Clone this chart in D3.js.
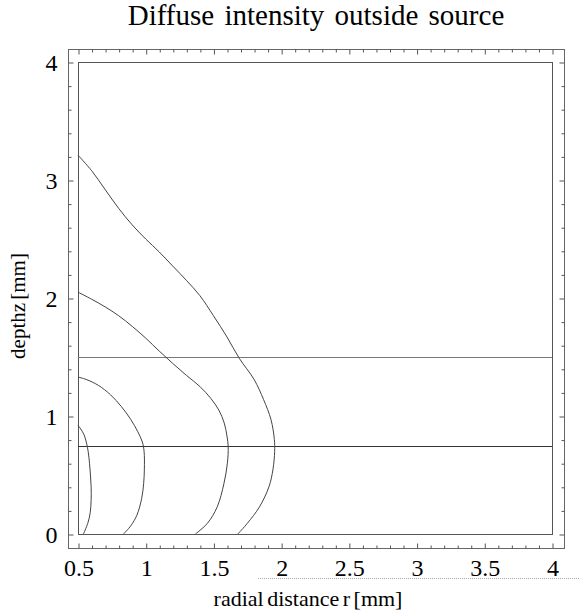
<!DOCTYPE html>
<html>
<head>
<meta charset="utf-8">
<script src="https://cdn.jsdelivr.net/npm/d3@7"></script>
<style>
  html, body { margin: 0; padding: 0; background: #fff; }
  svg { display: block; }
  text { font-family: "Liberation Serif", "DejaVu Serif", serif; fill: #000; }
</style>
</head>
<body>
<svg id="chart" width="580" height="613"></svg>
<script>
// ---- data ----
const titleText = "Diffuse intensity outside source";
const xLabel = "radial distance r [mm]";
const yLabel = "depthz [mm]";
const xMajorTicks = [0.5, 1, 1.5, 2, 2.5, 3, 3.5, 4];
const xTickLabels = ["0.5", "1", "1.5", "2", "2.5", "3", "3.5", "4"];
const yMajorTicks = [0, 1, 2, 3, 4];
const yTickLabels = ["0", "1", "2", "3", "4"];
const xMinorTicks = [0.6,0.7,0.8,0.9,1.1,1.2,1.3,1.4,1.6,1.7,1.8,1.9,2.1,2.2,2.3,2.4,2.6,2.7,2.8,2.9,3.1,3.2,3.3,3.4,3.6,3.7,3.8,3.9];
const yMinorTicks = [0.2,0.4,0.6,0.8,1.2,1.4,1.6,1.8,2.2,2.4,2.6,2.8,3.2,3.4,3.6,3.8];
const horizontalLevels = [1.5, 0.75];

// contour curves: [r, z]
const contour1 = [[0.5,0.92],[0.52,0.89],[0.545,0.84],[0.563,0.77],[0.575,0.70],[0.585,0.60],[0.592,0.50],[0.597,0.40],[0.597,0.29],[0.59,0.18],[0.572,0.09],[0.54,0]];
const contour2 = [[0.5,1.33],[0.56,1.31],[0.65,1.26],[0.74,1.18],[0.82,1.08],[0.89,0.97],[0.94,0.87],[0.975,0.78],[0.988,0.70],[0.99,0.55],[0.985,0.43],[0.97,0.30],[0.935,0.16],[0.89,0.07],[0.836,0]];
const contour3 = [[0.5,2.05],[0.6,1.99],[0.7,1.925],[0.8,1.85],[0.9,1.76],[1.0,1.66],[1.1,1.55],[1.2,1.445],[1.3,1.345],[1.4,1.25],[1.48,1.15],[1.54,1.05],[1.58,0.94],[1.60,0.83],[1.609,0.74],[1.603,0.60],[1.578,0.43],[1.528,0.23],[1.455,0.09],[1.367,0]];
const contour4 = [[0.5,3.21],[0.6,3.08],[0.7,2.92],[0.8,2.76],[0.9,2.62],[1.0,2.50],[1.1,2.39],[1.2,2.27],[1.3,2.15],[1.4,2.02],[1.5,1.85],[1.6,1.67],[1.69,1.49],[1.8,1.31],[1.87,1.14],[1.925,0.97],[1.95,0.80],[1.952,0.70],[1.94,0.55],[1.91,0.40],[1.84,0.23],[1.75,0.09],[1.68,0]];
const contours = [contour1, contour2, contour3, contour4];

// ---- layout ----
const svg = d3.select("#chart");
const inner = {left: 78, right: 552, top: 62, bottom: 534};
const outer = {left: 68, right: 564, top: 49, bottom: 548};

const x = d3.scaleLinear().domain([0.5, 4]).range([inner.left, inner.right]);
const y = d3.scaleLinear().domain([0, 4]).range([inner.bottom, inner.top]);

// title
svg.append("text").attr("x", 316).attr("y", 25).attr("text-anchor", "middle")
  .attr("font-size", 29).attr("word-spacing", 3).text(titleText);

// outer frame
svg.append("rect").attr("x", outer.left + 0.5).attr("y", outer.top + 0.5)
  .attr("width", outer.right - outer.left).attr("height", outer.bottom - outer.top)
  .attr("fill", "none").attr("stroke", "#666").attr("stroke-width", 1);

// inner box
svg.append("rect").attr("x", inner.left + 0.5).attr("y", inner.top + 0.5)
  .attr("width", inner.right - inner.left).attr("height", inner.bottom - inner.top)
  .attr("fill", "none").attr("stroke", "#555").attr("stroke-width", 1);

function styleAxis(g) {
  g.select(".domain").remove();
  g.selectAll(".tick line").attr("stroke", "#555");
}

// bottom axis (labels)
svg.append("g").attr("transform", `translate(0.5,${outer.bottom + 0.5})`)
  .call(d3.axisBottom(x).tickValues(xMajorTicks).tickFormat((d, i) => xTickLabels[i]).tickSize(-5).tickPadding(10))
  .call(styleAxis)
  .call(g => g.selectAll("text").attr("font-size", 24).attr("font-family", "Liberation Serif").attr("fill", "#000"));
svg.append("g").attr("transform", `translate(0.5,${outer.bottom + 0.5})`)
  .call(d3.axisBottom(x).tickValues(xMinorTicks).tickFormat("").tickSize(-3))
  .call(styleAxis);

// top axis
svg.append("g").attr("transform", `translate(0.5,${outer.top + 0.5})`)
  .call(d3.axisTop(x).tickValues(xMajorTicks).tickFormat("").tickSize(-5))
  .call(styleAxis);
svg.append("g").attr("transform", `translate(0.5,${outer.top + 0.5})`)
  .call(d3.axisTop(x).tickValues(xMinorTicks).tickFormat("").tickSize(-3))
  .call(styleAxis);

// left axis (labels)
svg.append("g").attr("transform", `translate(${outer.left + 0.5},0.5)`)
  .call(d3.axisLeft(y).tickValues(yMajorTicks).tickFormat((d, i) => yTickLabels[i]).tickSize(-5).tickPadding(11))
  .call(styleAxis)
  .call(g => g.selectAll("text").attr("font-size", 24).attr("font-family", "Liberation Serif").attr("fill", "#000"));
svg.append("g").attr("transform", `translate(${outer.left + 0.5},0.5)`)
  .call(d3.axisLeft(y).tickValues(yMinorTicks).tickFormat("").tickSize(-3))
  .call(styleAxis);

// right axis
svg.append("g").attr("transform", `translate(${outer.right + 0.5},0.5)`)
  .call(d3.axisRight(y).tickValues(yMajorTicks).tickFormat("").tickSize(-5))
  .call(styleAxis);
svg.append("g").attr("transform", `translate(${outer.right + 0.5},0.5)`)
  .call(d3.axisRight(y).tickValues(yMinorTicks).tickFormat("").tickSize(-3))
  .call(styleAxis);

// horizontal level lines
svg.append("g").selectAll("line").data(horizontalLevels).join("line")
  .attr("x1", x(0.5)).attr("x2", x(4))
  .attr("y1", d => Math.round(y(d)) + 0.5).attr("y2", d => Math.round(y(d)) + 0.5)
  .attr("stroke", (d, i) => i === 0 ? "#777" : "#333").attr("stroke-width", 1);

// contour lines
const line = d3.line().x(d => x(d[0])).y(d => y(d[1])).curve(d3.curveCatmullRom.alpha(0.5));
svg.append("g").selectAll("path").data(contours).join("path")
  .attr("d", line).attr("fill", "none").attr("stroke", "#444").attr("stroke-width", 1);

// axis titles
svg.append("text").attr("x", 308).attr("y", 606).attr("text-anchor", "middle")
  .attr("font-size", 22).attr("word-spacing", -2).text(xLabel);
svg.append("text").attr("transform", "translate(25,306) rotate(-90)").attr("text-anchor", "middle")
  .attr("font-size", 21).attr("word-spacing", -2).text(yLabel);

// faint dotted rule below x tick labels (present in the reference)
svg.append("line").attr("x1", 258).attr("x2", 580).attr("y1", 578.5).attr("y2", 578.5)
  .attr("stroke", "#aaa").attr("stroke-width", 1).attr("stroke-dasharray", "1,1");
</script>
</body>
</html>
